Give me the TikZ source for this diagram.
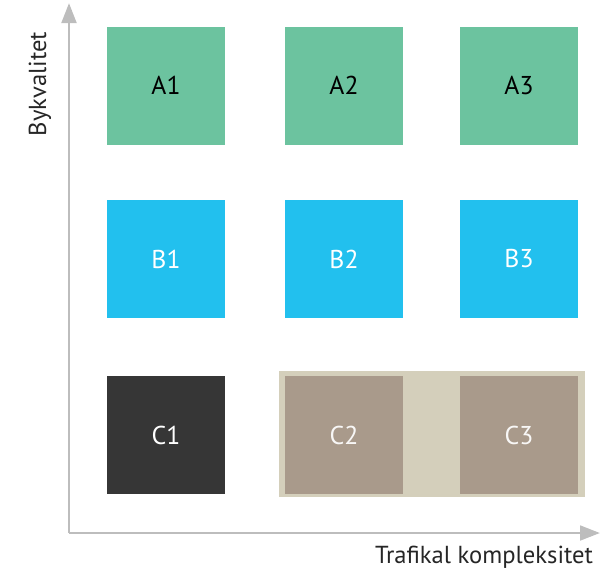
\documentclass[tikz,border=0pt]{standalone}
\usepackage{fontspec}
\setmainfont{PT Sans}
\usetikzlibrary{arrows.meta}
\definecolor{kgreen}{HTML}{6CC39F}
\definecolor{kblue}{HTML}{22C0EE}
\definecolor{kdark}{HTML}{363636}
\definecolor{ktaupe}{HTML}{A99A8B}
\definecolor{kbeige}{HTML}{D4CFBB}
\definecolor{kaxis}{HTML}{BDBDBD}
\tikzset{cell/.style={minimum size=3.54cm,inner sep=0pt,font=\fontsize{22}{26}\selectfont},
axisline/.style={draw=kaxis,line width=2.5pt,-{Triangle[length=6mm,width=4.4mm]}},
axislabel/.style={text=black!85,font=\fontsize{21}{25}\selectfont}}
\begin{document}
\begin{tikzpicture}[x=0.03cm,y=-0.03cm]
\useasboundingbox(0,0)rectangle(601,575);
\pgfmathsetmacro{\kya}{85.5}
\pgfmathsetmacro{\kyb}{259}
\pgfmathsetmacro{\kyc}{435}
% C2/C3 band
\fill[kbeige](279,371)rectangle(585,497);
\foreach \c/\x in {1/166,2/344,3/519}{\node[cell,fill=kgreen,text=black](A\c)at(\x,\kya){A\c};}
\foreach \c/\x in {1/166,2/344,3/519}{\node[cell,fill=kblue,text=white](B\c)at(\x,\kyb){B\c};}
\node[cell,fill=kdark,text=white](C1)at(166,\kyc){C1};
\foreach \c/\x in {2/344,3/519}{\node[cell,fill=ktaupe,text=white!92!ktaupe](C\c)at(\x,\kyc){C\c};}
% axes
\coordinate(o)at(69,533);
\coordinate(ytop)at(69,3);
\coordinate(xend)at(600,533);
\draw[axisline](o)--(ytop);
\draw[axisline](o)--(xend);
\node[axislabel,rotate=90](ylab)at(40,84){Bykvalitet};
\node[axislabel](xlab)at(484,557){Trafikal kompleksitet};
\end{tikzpicture}
\end{document}
